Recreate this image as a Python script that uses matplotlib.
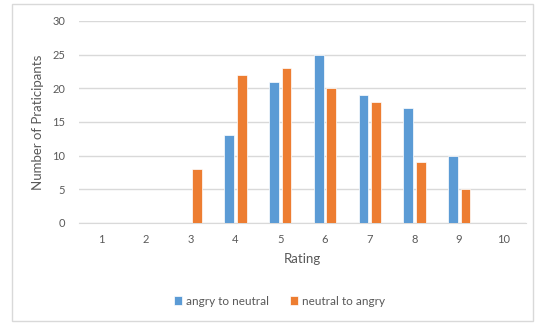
import numpy as np
import matplotlib.pyplot as plt
from matplotlib.patches import Rectangle

ratings = [1, 2, 3, 4, 5, 6, 7, 8, 9, 10]
angry_to_neutral = [0, 0, 0, 13, 21, 25, 19, 17, 10, 0]
neutral_to_angry = [0, 0, 8, 22, 23, 20, 18, 9, 5, 0]

plt.rcParams['font.family'] = ['Lato', 'DejaVu Sans']
txt = '#595959'
grid = '#D9D9D9'

fig = plt.figure(figsize=(5.37, 3.23), dpi=100)
ax = fig.add_axes([0.147, 0.31, 0.833, 0.625])

x = np.array(ratings)
w = 0.22
off = 0.14
ax.bar(x - off, angry_to_neutral, w, color='#5B9BD5', edgecolor='white', linewidth=0.5,
       label='angry to neutral', zorder=3)
ax.bar(x + off, neutral_to_angry, w, color='#ED7D31', edgecolor='white', linewidth=0.5,
       label='neutral to angry', zorder=3)

ax.set_xlim(0.5, 10.5)
ax.set_ylim(0, 30)
ax.set_yticks(range(0, 31, 5))
ax.set_xticks(ratings)
ax.yaxis.grid(True, color=grid, linewidth=1, zorder=0)
ax.set_axisbelow(True)
for s in ['top', 'right', 'left']:
    ax.spines[s].set_visible(False)
ax.spines['bottom'].set_color(grid)
ax.tick_params(length=0, colors=txt, labelsize=8)
ax.tick_params(axis='x', pad=8)
ax.tick_params(axis='y', pad=10)

ax.set_xlabel('Rating', color=txt, fontsize=9.5, labelpad=6)
ax.set_ylabel('Number of Praticipants', color=txt, fontsize=9.5, labelpad=6)

ax.legend(loc='center', bbox_to_anchor=(0.52, 0.068), bbox_transform=fig.transFigure,
          ncol=2, frameon=False, fontsize=8.5, handlelength=0.7, handleheight=0.7,
          handletextpad=0.3, columnspacing=1.8, labelcolor=txt)

fig.patches.append(Rectangle((0.022, 0.005), 0.97, 0.982, transform=fig.transFigure,
                             fill=False, edgecolor=grid, linewidth=1))

fig.savefig('out.png', dpi=100)
